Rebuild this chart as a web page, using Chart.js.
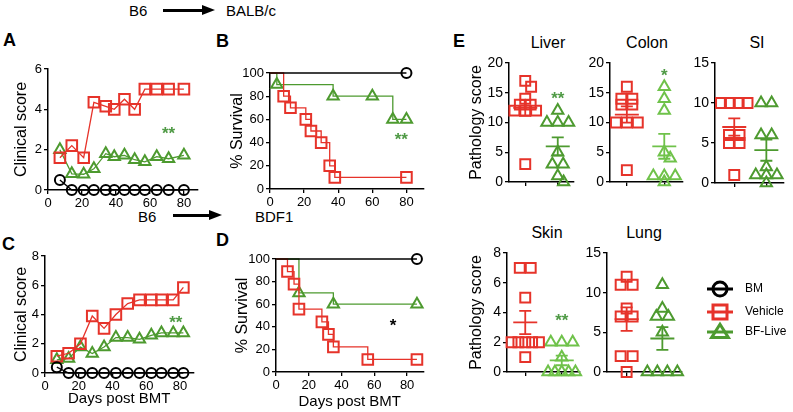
<!DOCTYPE html>
<html>
<head>
<meta charset="utf-8">
<script src="https://cdn.jsdelivr.net/npm/chart.js@4.4.1/dist/chart.umd.min.js"></script>
<style>
html, body { margin: 0; padding: 0; background: #fff; }
#page { position: relative; width: 793px; height: 412px; overflow: hidden;
        font-family: "Liberation Sans", Arial, sans-serif; color: #000; }
.box { position: absolute; }
.lbl { position: absolute; white-space: nowrap; line-height: 1; }
.letter { font-weight: bold; font-size: 18px; transform: translateY(-50%); }
.strain { font-size: 15px; transform: translateY(-50%); }
.organ { font-size: 16px; transform: translate(-50%, -50%); }
.shaft { position: absolute; height: 3px; background: #000; }
.head { position: absolute; width: 0; height: 0; border-top: 5px solid transparent;
        border-bottom: 5px solid transparent; border-left: 13px solid #000; }
</style>
</head>
<body>
<div id="page">
  <div class="lbl letter" style="left:3px;top:40px">A</div>
  <div class="lbl letter" style="left:216px;top:41px">B</div>
  <div class="lbl letter" style="left:2px;top:244px">C</div>
  <div class="lbl letter" style="left:216px;top:240px">D</div>
  <div class="lbl letter" style="left:453px;top:41px">E</div>

  <div class="lbl strain" style="left:129px;top:10px">B6</div>
  <div class="shaft" style="left:163px;top:9px;width:42px"></div>
  <div class="head" style="left:202px;top:5px"></div>
  <div class="lbl strain" style="left:226px;top:10px">BALB/c</div>

  <div class="lbl strain" style="left:138px;top:216px">B6</div>
  <div class="shaft" style="left:173px;top:214px;width:38px"></div>
  <div class="head" style="left:209px;top:210px"></div>
  <div class="lbl strain" style="left:255px;top:216px">BDF1</div>

  <div class="lbl organ" style="left:548px;top:43px">Liver</div>
  <div class="lbl organ" style="left:647px;top:43px">Colon</div>
  <div class="lbl organ" style="left:757px;top:43px">SI</div>
  <div class="lbl organ" style="left:547px;top:233px">Skin</div>
  <div class="lbl organ" style="left:644px;top:233px">Lung</div>
</div>
<script>
// ---------- data ----------
const dayTicks = [0, 20, 40, 60, 80];
const survTicks = [0, 20, 40, 60, 80, 100];

// A: B6 -> BALB/c, clinical score
const daysA = [7, 14, 21, 27, 34, 39, 45, 51, 57, 64, 71, 80];
const bmA  = [0.5, 0, 0, 0, 0, 0, 0, 0, 0, 0, 0, 0];
const vehA = [1.6, 2.2, 1.6, 4.35, 4.15, 4.0, 4.5, 4.0, 5, 5, 5, 5];
const bfA  = [2.0, 0.8, 0.78, 1.05, 1.8, 1.65, 1.72, 1.5, 1.4, 1.65, 1.55, 1.72];
const scoreTicksA = [0, 2, 4, 6];

// B: B6 -> BALB/c, survival
const bmBx = [0, 80];
const bmBy = [100, 100];
const vehBx = [0, 8, 12, 21, 24, 30, 35, 38, 80];
const vehBy = [100, 80, 70, 60, 50, 40, 20, 10, 10];
const bfBx = [0, 4, 37, 60, 72, 80];
const bfBy = [100, 90, 80, 80, 60, 60];

// C: B6 -> BDF1, clinical score
const daysC = [7, 14, 21, 28, 35, 42, 49, 56, 63, 69, 76, 82];
const bmC  = [0.4, 0, 0, 0, 0, 0, 0, 0, 0, 0, 0, 0];
const vehC = [1.15, 1.35, 2.0, 3.9, 3.05, 4.0, 4.75, 5.0, 5.0, 5.0, 5.0, 5.85];
const bfC  = [0.9, 1.0, 1.78, 1.33, 1.78, 2.42, 2.42, 2.3, 2.58, 2.74, 2.74, 2.74];
const scoreTicksC = [0, 2, 4, 6, 8];

// D: B6 -> BDF1, survival
const bmDx = [0, 86];
const bmDy = [100, 100];
const vehDx = [0, 7, 11, 14, 28, 32, 35, 56, 86];
const vehDy = [100, 88.9, 77.8, 55.6, 44.4, 33.3, 22.2, 11.1, 11.1];
const bfDx = [0, 14, 35, 86];
const bfDy = [100, 70, 60, 60];

// E: pathology scores (Vehicle / BF-Live)
const liverVeh = [17, 16, 14, 13, 13, 12, 12, 12, 3];
const liverBf  = [12, 10, 10, 10, 5, 3, 3, 1, 0];
const colonVeh = [16, 14, 14, 13, 13, 10, 10, 10, 2];
const colonBf  = [16, 14, 12, 5, 4, 1, 1, 1, 0];
const siVeh    = [10, 10, 10, 10, 6, 6, 5, 5, 1];
const siBf     = [10, 10, 6, 6, 2, 1, 1, 1, 0];
const skinVeh  = [7, 7, 5, 2, 2, 2, 2, 2, 1];
const skinBf   = [2, 2, 2, 1, 0, 0, 0, 0, 0];
const lungVeh  = [12, 11, 11, 8, 7, 7, 2, 2, 0];
const lungBf   = [11, 8, 7, 7, 5, 0, 0, 0, 0];
const ticks20 = [0, 5, 10, 15, 20];
const ticks15 = [0, 5, 10, 15];
const ticks8  = [0, 2, 4, 6, 8];

const legendLabels = ['BM', 'Vehicle', 'BF-Live'];

// ---------- style ----------
const FONT = '"Liberation Sans", Arial, sans-serif';
const RED = '#e6332a', GREEN = '#4d9a2f', LGREEN = '#6fc24a', STAR = '#4f9a45';
Chart.defaults.font.family = FONT;
Chart.defaults.color = '#000';

const extras = {};

function pts(xs, ys) { return xs.map((x, i) => ({ x: x, y: ys[i] })); }

function makeBox(id, a) {
  const left = a.L - a.yW;
  const top = a.T - 12;
  const div = document.createElement('div');
  div.className = 'box';
  div.style.left = left + 'px';
  div.style.top = top + 'px';
  div.style.width = (a.R + (a.padR || 0) - left) + 'px';
  div.style.height = (a.B + a.xH - top) + 'px';
  const cv = document.createElement('canvas');
  cv.id = id;
  div.appendChild(cv);
  document.getElementById('page').appendChild(div);
  return cv;
}

function axis(min, max, tickVals, size, fontSize, showLabels, title, titleSize) {
  return {
    type: 'linear', min: min, max: max,
    afterBuildTicks: s => { s.ticks = tickVals.map(v => ({ value: v })); },
    afterFit: s => { if (s.isHorizontal()) s.height = size; else s.width = size; },
    grid: { drawOnChartArea: false, drawTicks: true, tickLength: 4, color: '#000', lineWidth: 1.3 },
    border: { display: true, color: '#000', width: 1.5 },
    ticks: { display: showLabels, color: '#000', padding: 2, autoSkip: false, maxRotation: 0,
             font: { family: FONT, size: fontSize } },
    title: title ? { display: true, text: title, color: '#000', padding: 0,
                     font: { family: FONT, size: titleSize || 16 } } : { display: false }
  };
}

function series(data, color, style, r, stepped) {
  return {
    data: data, borderColor: color, borderWidth: 1.3, stepped: stepped ? 'before' : false,
    pointStyle: style,
    pointRadius: stepped ? (c => c.dataIndex === 0 ? 0 : r) : r,
    pointBorderWidth: 2, pointBorderColor: color, pointBackgroundColor: 'rgba(0,0,0,0)',
    tension: 0, fill: false, clip: false
  };
}

function drawMarker(ctx, style, x, y, r) {
  ctx.beginPath();
  if (style === 'circle') ctx.arc(x, y, r, 0, Math.PI * 2);
  else if (style === 'rect') ctx.rect(x - r, y - r, 2 * r, 2 * r);
  else {
    ctx.moveTo(x, y - r * 1.1);
    ctx.lineTo(x + r * 1.2, y + r * 0.8);
    ctx.lineTo(x - r * 1.2, y + r * 0.8);
    ctx.closePath();
  }
  ctx.stroke();
}

const overlay = {
  id: 'overlay',
  afterDatasetsDraw(chart) {
    const ex = extras[chart.canvas.id];
    if (!ex) return;
    const ctx = chart.ctx, xs = chart.scales.x, ys = chart.scales.y;
    ctx.save();
    (ex.groups || []).forEach(g => {
      const n = g.vals.length;
      const m = g.vals.reduce((s, v) => s + v, 0) / n;
      const sd = Math.sqrt(g.vals.reduce((s, v) => s + (v - m) * (v - m), 0) / (n - 1));
      const se = sd / Math.sqrt(n);
      const cx = xs.getPixelForValue(g.cat);
      const ym = ys.getPixelForValue(m), yt = ys.getPixelForValue(m + se), yb = ys.getPixelForValue(m - se);
      ctx.strokeStyle = g.color;
      ctx.lineWidth = 1.8;
      ctx.beginPath();
      ctx.moveTo(cx - 12, ym); ctx.lineTo(cx + 12, ym);
      ctx.moveTo(cx, yt); ctx.lineTo(cx, yb);
      ctx.moveTo(cx - 6, yt); ctx.lineTo(cx + 6, yt);
      ctx.moveTo(cx - 6, yb); ctx.lineTo(cx + 6, yb);
      ctx.stroke();
    });
    (ex.stars || []).forEach(s => {
      ctx.fillStyle = s.color;
      ctx.font = 'bold 17px ' + FONT;
      ctx.textAlign = 'center';
      ctx.textBaseline = 'middle';
      ctx.fillText(s.text, xs.getPixelForValue(s.x), ys.getPixelForValue(s.y) + 4);
    });
    if (ex.legend) {
      const ca = chart.chartArea;
      const styles = [['circle', '#000'], ['rect', RED], ['triangle', GREEN]];
      const rowY = [36, 59, 79];
      legendLabels.forEach((lab, i) => {
        const y = ca.top + rowY[i];
        ctx.strokeStyle = styles[i][1];
        ctx.lineWidth = 3;
        ctx.beginPath();
        ctx.moveTo(ca.right + 25, y); ctx.lineTo(ca.right + 51, y);
        ctx.stroke();
        drawMarker(ctx, styles[i][0], ca.right + 38, y, 7);
        ctx.fillStyle = '#000';
        ctx.font = '12px ' + FONT;
        ctx.textAlign = 'left';
        ctx.textBaseline = 'middle';
        ctx.fillText(lab, ca.right + 63, y);
      });
    }
    ctx.restore();
  }
};

function baseOptions(a) {
  return {
    responsive: true, maintainAspectRatio: false, animation: false, events: [],
    devicePixelRatio: 1,
    layout: { padding: { top: 12, left: 0, right: a.padR || 0, bottom: 0 } },
    plugins: { legend: { display: false }, tooltip: { enabled: false } }
  };
}

function timeChart(id, a, datasets, xMax, yMax, yTicks, yTitle, xTitle) {
  const cv = makeBox(id, a);
  const opts = baseOptions(a);
  opts.scales = {
    x: axis(0, xMax, dayTicks, a.xH, 13, true, xTitle, 15),
    y: axis(0, yMax, yTicks, a.yW, 13, true, yTitle, 16)
  };
  new Chart(cv, { type: 'line', data: { datasets: datasets }, options: opts, plugins: [overlay] });
}

// spread tied / close values sideways (pixel offsets), like a column scatter
function swarm(vals, cat, a) {
  const pxY = (a.B - a.T) / a.yMax;
  const pxX = (a.R - a.L) / (a.xMax - a.xMin);
  const order = vals.slice().sort((p, q) => q - p);
  const counts = {}, seen = {}, placed = [];
  order.forEach(v => { counts[v] = (counts[v] || 0) + 1; });
  order.forEach(v => {
    const n = counts[v];
    let dx;
    if (n > 1) {
      const sp = Math.min(12, 30 / (n - 1));
      seen[v] = seen[v] === undefined ? 0 : seen[v] + 1;
      dx = (seen[v] - (n - 1) / 2) * sp;
    } else {
      dx = [0, 6.5, -6.5, 13, -13].find(c =>
        !placed.some(p => Math.abs(p.y - v) * pxY < 8 && Math.abs(p.dx - c) < 6));
      if (dx === undefined) dx = 0;
    }
    placed.push({ y: v, dx: dx });
  });
  return placed.map(p => ({ x: cat + p.dx / pxX, y: p.y }));
}

function organChart(id, a, yTicks, veh, bf, bfColor, yTitle, stars, legend) {
  const cv = makeBox(id, a);
  const opts = baseOptions(a);
  opts.scales = {
    x: axis(a.xMin, a.xMax, [1, 2], a.xH, 14, false, null),
    y: axis(0, a.yMax, yTicks, a.yW, 14, true, yTitle, 16)
  };
  const ds = (vals, cat, color, style, r) => ({
    data: swarm(vals, cat, a), showLine: false, pointStyle: style, pointRadius: r,
    pointBorderWidth: 2, pointBorderColor: color, pointBackgroundColor: 'rgba(0,0,0,0)', clip: false
  });
  extras[id] = {
    groups: [{ cat: 1, vals: veh, color: RED }, { cat: 2, vals: bf, color: bfColor }],
    stars: stars || [], legend: !!legend
  };
  new Chart(cv, {
    type: 'scatter',
    data: { datasets: [ds(veh, 1, RED, 'rect', 7), ds(bf, 2, bfColor, 'triangle', 6.5)] },
    options: opts, plugins: [overlay]
  });
}

// ---------- panels ----------
const areaA = { L: 48, T: 69, R: 203, B: 190, yW: 36, xH: 20, padR: 4 };
extras.chartA = { stars: [{ x: 71, y: 2.97, text: '**', color: STAR }] };
timeChart('chartA', areaA, [
  series(pts(daysA, bmA), '#000', 'circle', 5, false),
  series(pts(daysA, vehA), RED, 'rect', 7.5, false),
  series(pts(daysA, bfA), GREEN, 'triangle', 6.5, false)
], 88, 6, scoreTicksA, 'Clinical score', null);

const areaB = { L: 270, T: 73, R: 429, B: 189, yW: 42, xH: 20, padR: 4 };
extras.chartB = { stars: [{ x: 77, y: 45, text: '**', color: STAR }] };
timeChart('chartB', areaB, [
  series(pts(bmBx, bmBy), '#000', 'circle', 5, true),
  series(pts(vehBx, vehBy), RED, 'rect', 7.5, true),
  series(pts(bfBx, bfBy), GREEN, 'triangle', 6.5, true)
], 90, 100, survTicks, '% Survival', null);

const areaC = { L: 45, T: 256, R: 199, B: 373, yW: 33, xH: 35, padR: 4 };
extras.chartC = { stars: [{ x: 77.5, y: 3.7, text: '**', color: STAR }] };
timeChart('chartC', areaC, [
  series(pts(daysC, bmC), '#000', 'circle', 5, false),
  series(pts(daysC, vehC), RED, 'rect', 7.5, false),
  series(pts(daysC, bfC), GREEN, 'triangle', 6.5, false)
], 88, 8, scoreTicksC, 'Clinical score', 'Days post BMT');

const areaD = { L: 276, T: 259, R: 429, B: 372, yW: 43, xH: 39, padR: 4 };
extras.chartD = { stars: [{ x: 71.5, y: 44, text: '*', color: '#000' }] };
timeChart('chartD', areaD, [
  series(pts(bmDx, bmDy), '#000', 'circle', 5, true),
  series(pts(vehDx, vehDy), RED, 'rect', 7.5, true),
  series(pts(bfDx, bfDy), GREEN, 'triangle', 6.5, true)
], 90, 100, survTicks, '% Survival', 'Days post BMT');

organChart('liver', { L: 509, T: 63, R: 581, B: 182, yW: 42, xH: 11, padR: 2, xMin: 0.5, xMax: 2.5, yMax: 20 },
  ticks20, liverVeh, liverBf, GREEN, 'Pathology score', [{ x: 2, y: 14.5, text: '**', color: STAR }]);
organChart('colon', { L: 610, T: 63, R: 690, B: 182, yW: 30, xH: 11, padR: 2, xMin: 0.55, xMax: 2.5, yMax: 20 },
  ticks20, colonVeh, colonBf, LGREEN, null, [{ x: 2, y: 18.5, text: '*', color: STAR }]);
organChart('si', { L: 715, T: 63, R: 793, B: 183, yW: 30, xH: 11, padR: 0, xMin: 0.4, xMax: 2.55, yMax: 15 },
  ticks15, siVeh, siBf, GREEN, null, []);
organChart('skin', { L: 507, T: 253, R: 587, B: 372, yW: 40, xH: 11, padR: 2, xMin: 0.5, xMax: 2.5, yMax: 8 },
  ticks8, skinVeh, skinBf, LGREEN, 'Pathology score', [{ x: 2, y: 3.7, text: '**', color: STAR }]);
organChart('lung', { L: 607, T: 253, R: 682, B: 372, yW: 30, xH: 11, padR: 111, xMin: 0.45, xMax: 2.55, yMax: 15 },
  ticks15, lungVeh, lungBf, GREEN, null, [], true);
</script>
</body>
</html>
